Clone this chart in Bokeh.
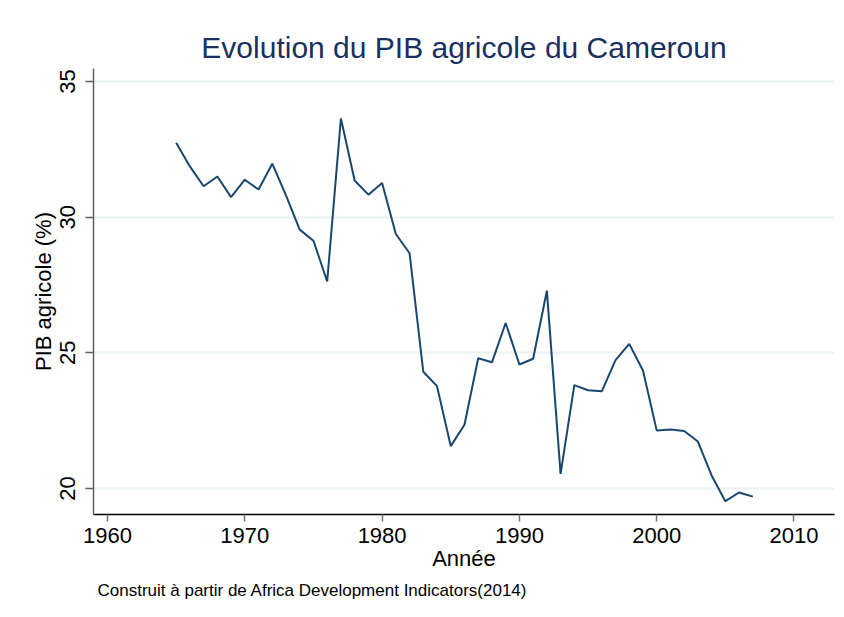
from bokeh.plotting import figure
from bokeh.models import Range1d, FixedTicker, Title
from bokeh.embed import file_html
from bokeh.resources import INLINE

years = list(range(1965, 2008))
pib_agricole = [
    32.74, 31.87, 31.14, 31.50, 30.74, 31.38, 31.02, 31.97, 30.80, 29.54,
    29.13, 27.63, 33.64, 31.35, 30.83, 31.26, 29.38, 28.67, 24.30, 23.77,
    21.56, 22.35, 24.80, 24.65, 26.10, 24.57, 24.78, 27.29, 20.54, 23.81,
    23.62, 23.58, 24.73, 25.33, 24.35, 22.14, 22.17, 22.12, 21.73, 20.48,
    19.53, 19.85, 19.70,
]
x_ticks = [1960, 1970, 1980, 1990, 2000, 2010]
y_ticks = [20, 25, 30, 35]

title_text = "Evolution du PIB agricole du Cameroun"
x_label = "Année"
y_label = "PIB agricole (%)"
note_text = "Construit à partir de Africa Development Indicators(2014)"

FONT = "Liberation Sans"
NAVY = "#1a476f"

x0, x1 = 1958.98, 2012.95
y0, y1 = 19.04, 35.48

p = figure(width=844, height=617, output_backend="svg", toolbar_location=None,
           x_range=Range1d(x0, x1), y_range=Range1d(y0, y1),
           min_border_left=93, min_border_right=10, min_border_top=68,
           min_border_bottom=103)
p.outline_line_color = None
p.background_fill_color = "white"
p.border_fill_color = "white"

p.title.text = title_text
p.title.align = "center"
p.title.text_font = FONT
p.title.text_font_size = "30px"
p.title.text_font_style = "normal"
p.title.text_color = "#1a3060"
p.title.offset = 2

note = Title(text=note_text, align="left", text_font=FONT,
             text_font_size="17px", text_font_style="normal",
             text_color="black", offset=4)
p.add_layout(note, "below")

p.line(years, pib_agricole, line_color=NAVY, line_width=2)

p.xgrid.visible = False
p.ygrid.ticker = FixedTicker(ticks=y_ticks)
p.ygrid.grid_line_color = "#eaf2f3"
p.ygrid.grid_line_width = 2

p.xaxis.ticker = FixedTicker(ticks=x_ticks)
p.yaxis.ticker = FixedTicker(ticks=y_ticks)
p.xaxis.minor_tick_line_color = None
p.yaxis.minor_tick_line_color = None
p.xaxis.axis_line_color = "#000000"
p.xaxis.axis_line_width = 1.5
p.xaxis.major_tick_line_color = "#707070"
p.xaxis.major_tick_line_width = 1.5
p.xaxis.major_tick_out = 7
p.xaxis.major_tick_in = 0
p.yaxis.axis_line_color = "#606060"
p.yaxis.axis_line_width = 1.5
p.yaxis.major_tick_line_color = "#606060"
p.yaxis.major_tick_line_width = 1.5
p.yaxis.major_tick_out = 8
p.yaxis.major_tick_in = 0
p.yaxis.major_label_orientation = "vertical"

for ax in (p.xaxis, p.yaxis):
    ax.major_label_text_font = FONT
    ax.major_label_text_font_size = "22px"
    ax.major_label_text_color = "black"
    ax.axis_label_text_font = FONT
    ax.axis_label_text_font_size = "22px"
    ax.axis_label_text_font_style = "normal"
    ax.axis_label_text_color = "black"

p.xaxis.axis_label = x_label
p.yaxis.axis_label = y_label
p.xaxis.major_label_standoff = 6
p.xaxis.axis_label_standoff = 0
p.yaxis.major_label_standoff = 10
p.yaxis.axis_label_standoff = 2

open("out.html", "w").write(file_html(p, INLINE))
